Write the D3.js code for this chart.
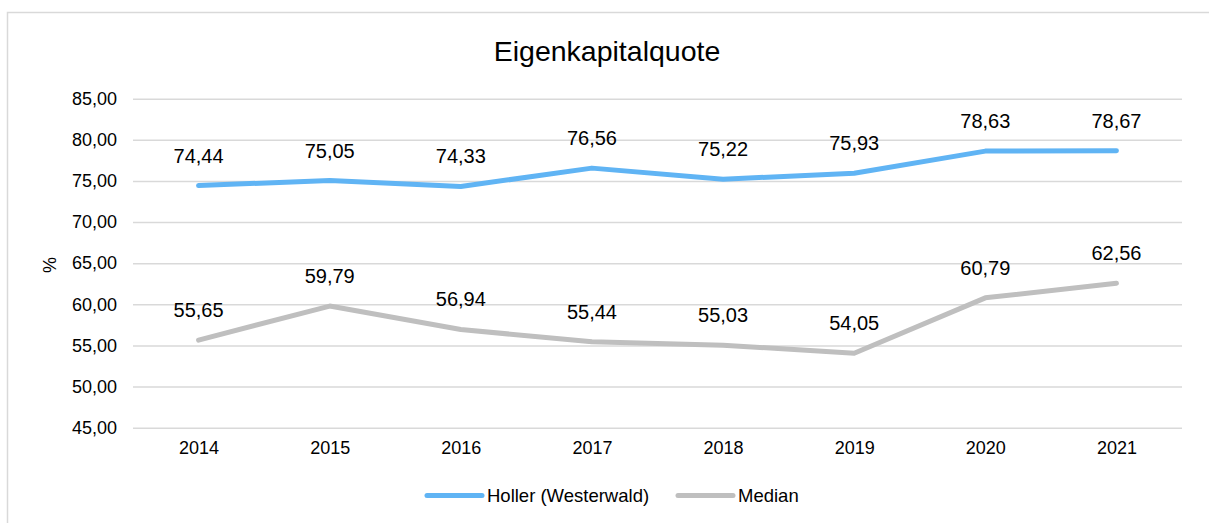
<!DOCTYPE html>
<html><head><meta charset="utf-8">
<script src="https://cdn.jsdelivr.net/npm/d3@7"></script>
<style>
html,body{margin:0;padding:0;background:#fff;}
svg{display:block;font-family:Arial,"Liberation Sans",sans-serif;}
</style></head>
<body><svg id="c" width="1209" height="523"></svg>
<script>
const title = "Eigenkapitalquote";
const years = ["2014","2015","2016","2017","2018","2019","2020","2021"];
const holler = [74.44, 75.05, 74.33, 76.56, 75.22, 75.93, 78.63, 78.67];
const median = [55.65, 59.79, 56.94, 55.44, 55.03, 54.05, 60.79, 62.56];
const yTicks = [45, 50, 55, 60, 65, 70, 75, 80, 85];
const seriesNames = ["Holler (Westerwald)", "Median"];
const yLabel = "%";

(function(){
const svg = d3.select("#c");
const fmt = v => v.toFixed(2).replace(".", ",");

// chart border
svg.append("rect").attr("x",7.5).attr("y",12.5).attr("width",1220).attr("height",540)
  .attr("fill","none").attr("stroke","#D9D9D9").attr("stroke-width",1.5);

const pLeft = 133, pRight = 1182, pTop = 98.7, pBottom = 427.7;
const x = d3.scalePoint().domain(years).range([pLeft, pRight]).padding(0.5);
const y = d3.scaleLinear().domain([45, 85]).range([pBottom, pTop]);

// gridlines
const yAxis = d3.axisLeft(y).tickValues(yTicks).tickSize(-(pRight-pLeft)).tickFormat(d => fmt(d)).tickPadding(16);
const gy = svg.append("g").attr("transform",`translate(${pLeft},0)`).call(yAxis);
gy.select(".domain").remove();
gy.selectAll(".tick line").attr("stroke","#D9D9D9").attr("stroke-width",1.5);
gy.selectAll(".tick text").attr("font-size",18).attr("fill","#000").attr("font-family","Arial,'Liberation Sans',sans-serif");

const xAxis = d3.axisBottom(x).tickSize(0).tickPadding(14);
const gx = svg.append("g").attr("transform",`translate(0,${pBottom})`).call(xAxis);
gx.select(".domain").remove();
gx.selectAll(".tick text").attr("font-size",18).attr("fill","#000").attr("font-family","Arial,'Liberation Sans',sans-serif");

// title
svg.append("text").attr("x",607).attr("y",61).attr("text-anchor","middle")
  .attr("font-size",28.5).attr("fill","#000").text(title);

// y label
svg.append("text").attr("transform","translate(56,265) rotate(-90)").attr("text-anchor","middle")
  .attr("font-size",18).attr("fill","#000").text(yLabel);

const series = [
  {name: seriesNames[0], values: holler, color: "#60B4F4"},
  {name: seriesNames[1], values: median, color: "#BFBFBF"}
];
const line = d3.line().x((d,i)=>x(years[i])).y(d=>y(d));
series.forEach(s => {
  svg.append("path").datum(s.values).attr("d", line).attr("fill","none")
    .attr("stroke", s.color).attr("stroke-width",5).attr("stroke-linecap","round").attr("stroke-linejoin","round");
  svg.append("g").selectAll("text").data(s.values).join("text")
    .attr("x",(d,i)=>x(years[i])).attr("y",d=>y(d)-23).attr("text-anchor","middle")
    .attr("font-size",20).attr("fill","#000").text(d=>fmt(d));
});

// legend
const leg = [{x0:427,x1:482,tx:487},{x0:678,x1:733,tx:738}];
series.forEach((s,i) => {
  svg.append("line").attr("x1",leg[i].x0).attr("x2",leg[i].x1).attr("y1",495.5).attr("y2",495.5)
    .attr("stroke",s.color).attr("stroke-width",5).attr("stroke-linecap","round");
  svg.append("text").attr("x",leg[i].tx).attr("y",502).attr("font-size",18.5).attr("fill","#000").text(s.name);
});
})();
</script></body></html>
